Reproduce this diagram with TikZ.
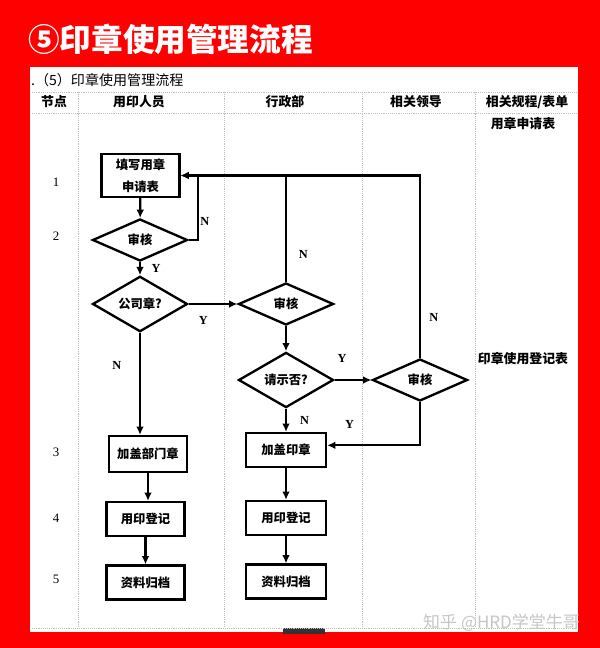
\documentclass[tikz,border=0pt]{standalone}
\usepackage{fontspec}
\setmainfont{Noto Sans CJK SC}
\newfontfamily\lat{Liberation Serif}
\usetikzlibrary{arrows.meta,shapes.geometric,calc}

\begin{document}
\begin{tikzpicture}[x=0.03cm, y=-0.03cm,
    box/.style={draw, line width=2pt, minimum width=2.34cm, minimum height=1.02cm, inner sep=0pt, font=\bfseries\fontsize{10.5}{12}\selectfont},
    decision/.style={diamond, draw, line width=2pt, minimum width=2.85cm, minimum height=1.26cm, inner sep=0pt, font=\bfseries\fontsize{10.5}{12}\selectfont},
    yn/.style={font=\lat\bfseries\fontsize{10.5}{12}\selectfont, inner sep=1pt},
    num/.style={font=\lat\fontsize{11}{12}\selectfont},
    head/.style={font=\bfseries\fontsize{11}{12}\selectfont},
    flow/.style={draw, -{Latex[length=7pt,width=6.5pt]}, line width=1.9pt},
    grid/.style={draw=gray!50, densely dotted, line width=0.6pt}]
        \useasboundingbox (0,0) rectangle (600,648);
        %background
        \fill[red] (0,0) rectangle (600,648);
        \fill[white] (30,67) rectangle (578,632);
        \fill[black!80] (283,628) rectangle (325,634);
        \node[anchor=west, text=white, font=\bfseries\fontsize{27}{30}\selectfont] (title) at (24,39) {⑤印章使用管理流程};
        \node[anchor=west, font=\fontsize{12}{13}\selectfont] (sub) at (27,80) {.（5）印章使用管理流程};
        %table
        \path[grid] (32,92) -- (577,92);
        \path[grid] (32,113) -- (577,113);
        \path[grid] (32,628) -- (577,628);
        \path[grid] (78,92) -- (78,628);
        \path[grid] (224,92) -- (224,628);
        \path[grid] (362,92) -- (362,628);
        \path[grid] (475,92) -- (475,628);
        \node[head] (hnode) at (54,102) {节点};
        \node[head] (huser) at (139,102) {用印人员};
        \node[head] (hadmin) at (285,102) {行政部};
        \node[head] (hlead) at (416,102) {相关领导};
        \node[head] (hform) at (527,102) {相关规程/表单};
        \node[head] (form1) at (523,124) {用章申请表};
        \node[head] (form2) at (523,359) {印章使用登记表};
        \node[num] (n1) at (56,182) {1};
        \node[num] (n2) at (56,236) {2};
        \node[num] (n3) at (56,452) {3};
        \node[num] (n4) at (56,518) {4};
        \node[num] (n5) at (56,579) {5};
        %nodes
        \node[box, minimum height=1.29cm, align=center, font=\bfseries\fontsize{10.5}{19}\selectfont] (apply) at (140.5,175.5) {填写用章\\申请表};
        \node[decision] (chk1) at (140,240) {审核};
        \node[decision] (seal) at (140,304) {公司章?};
        \node[decision] (chk2) at (286,304) {审核};
        \node[decision] (ask) at (286,380) {请示否?};
        \node[decision] (chk3) at (420,380) {审核};
        \node[box, minimum height=1.08cm] (dept) at (148,454) {加盖部门章};
        \node[box, minimum width=2.4cm] (stamp) at (286,450) {加盖印章};
        \node[box] (reg1) at (145.5,519) {用印登记};
        \node[box] (arc1) at (145.5,582.5) {资料归档};
        \node[box, minimum width=2.4cm] (reg2) at (286,518) {用印登记};
        \node[box, minimum width=2.4cm] (arc2) at (286,581.5) {资料归档};
        \coordinate (back) at (198,175.5);
        %edges
        \path [flow] (apply) -- (chk1);
        \path [flow] (chk1) -- node[yn, right=8pt, pos=0.5]{Y} (seal);
        \path [draw, line width=1.9pt] (chk1.east) -| node[yn, right, pos=0.64]{N} (back);
        \path [flow] (chk2.north) |- node[yn, right=9pt, pos=0.13]{N} (apply.east);
        \path [flow] (chk3.north) |- node[yn, right=6pt, pos=0.11]{N} (apply.east);
        \path [flow] (seal) -- node[yn, below=9pt, pos=0.3]{Y} (chk2);
        \path [flow] (seal.south) -- node[yn, left=14pt, pos=0.32]{N} (seal.south |- dept.north);
        \path [flow] (chk2) -- (ask);
        \path [flow] (ask) -- node[yn, above=13pt, pos=0.2]{Y} (chk3);
        \path [flow] (ask) -- node[yn, right=10pt]{N} (stamp);
        \path [flow] (chk3) |- node[yn, above=12pt, pos=0.88]{Y} ([yshift=4pt]stamp.east);
        \path [flow] (dept.south) -- (dept.south |- reg1.north);
        \path [flow] (reg1) -- (arc1);
        \path [flow] (stamp) -- (reg2);
        \path [flow] (reg2) -- (arc2);
        %watermark
        \node[anchor=east, text=gray!45, font=\fontsize{14.5}{16}\selectfont] (mark) at (584,623) {知乎 @HRD学堂牛哥};
      \end{tikzpicture}
\end{document}
